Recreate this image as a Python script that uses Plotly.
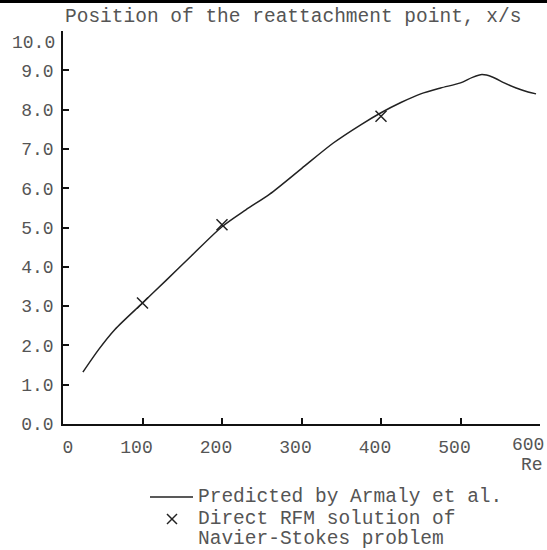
import plotly.graph_objects as go

# Reattachment length vs Reynolds number
re_curve = [25, 45, 65, 100, 130, 160, 200, 230, 260, 300, 340, 375, 400,
            425, 450, 475, 500, 515, 527, 540, 555, 570, 585, 595]
xs_curve = [1.32, 1.90, 2.40, 3.08, 3.66, 4.25, 5.02, 5.45, 5.85, 6.50, 7.15,
            7.62, 7.92, 8.18, 8.40, 8.55, 8.68, 8.82, 8.89, 8.83, 8.68, 8.55, 8.45, 8.40]

re_rfm = [100, 200, 400]
xs_rfm = [3.08, 5.07, 7.83]

x_ticks = [0, 100, 200, 300, 400, 500, 600]
x_ticktext = ["\u00a0\u00a00", "100", "200", "300", "400", "500", ""]
y_ticks = [0, 1, 2, 3, 4, 5, 6, 7, 8, 9, 10]
y_ticktext = ["0.0", "1.0", "2.0", "3.0", "4.0", "5.0", "6.0", "7.0", "8.0", "9.0", ""]

FONT = "Courier New, Liberation Mono, monospace"
TXT = "#555555"
INK = "#222222"

W, H = 547, 550
L, R, T, B = 63, 7, 31, 126
PW, PH = W - L - R, H - T - B


def px(xp):
    return (xp - L) / PW


def py(yp):
    return (H - B - yp) / PH


fig = go.Figure()
fig.add_trace(go.Scatter(x=re_curve, y=xs_curve, mode="lines",
                         line=dict(color=INK, width=1.5, shape="spline", smoothing=0.8),
                         showlegend=False, hoverinfo="skip"))
fig.add_trace(go.Scatter(x=re_rfm, y=xs_rfm, mode="markers",
                         marker=dict(symbol="x-thin", size=11,
                                     line=dict(color=INK, width=1.5)),
                         showlegend=False, hoverinfo="skip"))

axis_common = dict(showgrid=False, zeroline=False, showline=True, linecolor="#111111",
                   linewidth=1.5, ticks="inside", ticklen=6, tickwidth=1.5,
                   tickcolor="#111111", ticklabeloverflow="allow", automargin=False,
                   tickfont=dict(family=FONT, size=18, color=TXT))

fig.update_xaxes(range=[0, 600], tickvals=x_ticks, ticktext=x_ticktext,
                 ticklabelshift=-6, ticklabelstandoff=6, **axis_common)
fig.update_yaxes(range=[0, 10], tickvals=y_ticks, ticktext=y_ticktext,
                 ticklabelstandoff=4, **axis_common)

ann = []
ann.append(dict(text="Position of the reattachment point, x/s", x=px(64), y=py(17),
                xanchor="left", yanchor="middle"))
# end labels of both axes, set slightly inward from their ticks
ann.append(dict(text="10.0", x=px(56), y=py(43), xanchor="right", yanchor="middle", size=18))
ann.append(dict(text="600", x=px(545), y=py(445), xanchor="right", yanchor="middle", size=18))
ann.append(dict(text="Re", x=px(544), y=py(465), xanchor="right", yanchor="middle", size=18))
ann.append(dict(text="Predicted by Armaly et al.", x=px(197), y=py(497),
                xanchor="left", yanchor="middle"))
ann.append(dict(text="Direct RFM solution of", x=px(197), y=py(519),
                xanchor="left", yanchor="middle"))
ann.append(dict(text="Navier-Stokes problem", x=px(197), y=py(539),
                xanchor="left", yanchor="middle"))
for a in ann:
    size = a.pop("size", 19.5)
    a.update(xref="paper", yref="paper", showarrow=False, borderpad=0,
             font=dict(family=FONT, size=size, color=TXT))

shapes = [
    # rule across the top of the page
    dict(type="line", xref="paper", yref="paper", x0=px(0), x1=px(W), y0=py(1.5), y1=py(1.5),
         line=dict(color="#000000", width=3)),
    # legend line sample
    dict(type="line", xref="paper", yref="paper", x0=px(150), x1=px(193), y0=py(497), y1=py(497),
         line=dict(color=INK, width=1.5)),
    # legend cross marker
    dict(type="line", xref="paper", yref="paper", xsizemode="pixel", ysizemode="pixel",
         xanchor=px(172), yanchor=py(519), x0=-5, x1=5, y0=-5, y1=5,
         line=dict(color=INK, width=1.5)),
    dict(type="line", xref="paper", yref="paper", xsizemode="pixel", ysizemode="pixel",
         xanchor=px(172), yanchor=py(519), x0=-5, x1=5, y0=5, y1=-5,
         line=dict(color=INK, width=1.5)),
]

fig.update_layout(width=W, height=H, margin=dict(l=L, r=R, t=T, b=B, autoexpand=False),
                  paper_bgcolor="white", plot_bgcolor="white",
                  annotations=ann, shapes=shapes, showlegend=False)

fig.write_html("out.html")
